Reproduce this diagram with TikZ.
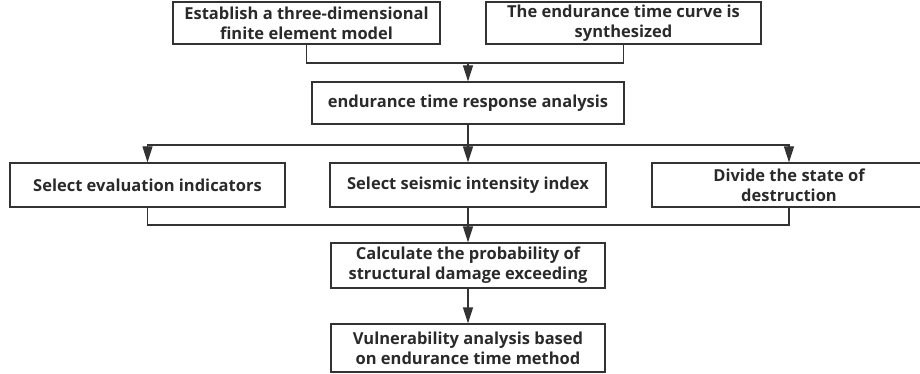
\documentclass[tikz,border=0pt]{standalone}
\usepackage{fontspec}
\setmainfont{Open Sans}
\usetikzlibrary{arrows.meta}
\definecolor{ln}{HTML}{333333}
\definecolor{tx}{HTML}{2A2A2A}
\tikzset{
  box/.style={draw=ln, line width=1.2pt, rectangle, align=center, text=tx,
    font=\fontsize{16.5}{20}\selectfont\bfseries, inner sep=0pt},
  link/.style={draw=ln, line width=1.2pt},
  arr/.style={link, -{Triangle[width=10pt,length=16pt]}}
}
\begin{document}
\begin{tikzpicture}[x=1pt,y=1pt]
\useasboundingbox (0,0) rectangle (920,-374);
\node[box, minimum width=267, minimum height=42] (b1) at (306.5,-23) {Establish a three-dimensional\\finite element model};
\node[box, minimum width=275, minimum height=42] (b2) at (623.5,-23) {The endurance time curve is\\synthesized};
\node[box, minimum width=312, minimum height=42] (b3) at (468,-103) {endurance time response analysis};
\node[box, minimum width=275, minimum height=44] (b4) at (147.5,-185) {Select evaluation indicators};
\node[box, minimum width=276, minimum height=44] (b5) at (468,-185) {Select seismic intensity index};
\node[box, minimum width=274, minimum height=44] (b6) at (789,-185) {Divide the state of\\destruction};
\node[box, minimum width=274, minimum height=45] (b7) at (468,-265.5) {Calculate the probability of\\structural damage exceeding};
\node[box, minimum width=274, minimum height=48] (b8) at (468,-348) {Vulnerability analysis based\\on endurance time method};
\coordinate (j1) at (468,-63);
\coordinate (j2) at (468,-145);
\coordinate (j3) at (468,-225);
\draw[link] (b1.south) |- (j1) -| (b2.south);
\draw[arr] (j1) -- (b3.north);
\draw[link] (b3.south) -- (j2);
\draw[arr] (j2) -| (b4.north);
\draw[arr] (j2) -- (b5.north);
\draw[arr] (j2) -| (b6.north);
\draw[link] (b4.south) |- (j3) -| (b6.south);
\draw[arr] (b5.south) -- (b7.north);
\draw[arr] (b7.south) -- (b8.north);
\end{tikzpicture}
\end{document}
